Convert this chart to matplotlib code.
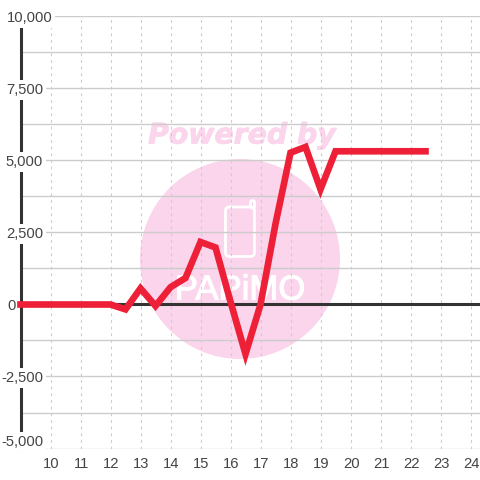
import matplotlib
matplotlib.use("Agg")
import matplotlib.pyplot as plt
import matplotlib.patheffects as pe
from matplotlib.patches import Circle, FancyBboxPatch
from matplotlib.transforms import ScaledTranslation

hours = [9, 12, 12.5, 13, 13.5, 14, 14.5, 15, 15.5, 16, 16.5, 17, 17.5, 18, 18.5, 19, 19.5, 22.5]
values = [0, 0, -170, 560, -50, 600, 920, 2170, 1980, 100, -1720, 0, 2800, 5270, 5470, 4000, 5320, 5320]
y_major = [-5000, -2500, 0, 2500, 5000, 7500, 10000]
y_labels = ["-5,000", "-2,500", "0", "2,500", "5,000", "7,500", "10,000"]
y_minor = [-3750, -1250, 1250, 3750, 6250, 8750]
x_ticks = list(range(10, 25))

W = H = 480
TXT = "#444444"
PINK = "#FBD5EC"
plt.rcParams["font.family"] = ["Liberation Sans", "DejaVu Sans"]

fig = plt.figure(figsize=(4.8, 4.8), dpi=100, facecolor="white")
ax = fig.add_axes([20.5 / W, 1 - 448.5 / H, (W - 20.5) / W, 432 / H])
ax.set_xlim(9, 9 + (W - 20.5) / 30)
ax.set_ylim(-5000, 10000)
ax.patch.set_alpha(0)
ax.set_xticks(x_ticks)
ax.set_yticks(y_major)
ax.set_yticks(y_minor, minor=True)
ax.set_yticklabels([])
ax.tick_params(which="both", length=0)
ax.tick_params(axis="x", labelsize=10.6, labelcolor=TXT, pad=6)
for lab in ax.get_xticklabels():
    lab.set_transform(lab.get_transform() + ScaledTranslation(1 / 100, 0, fig.dpi_scale_trans))
for s in ("top", "right", "bottom"):
    ax.spines[s].set_visible(False)
ax.spines["left"].set_linewidth(2.2)
ax.spines["left"].set_color("#333333")
ax.spines["left"].set_zorder(1.5)
ax.grid(True, axis="y", which="both", color="#cccccc", lw=1)
ax.grid(True, axis="x", color="#cccccc", lw=0.8, linestyle=(0, (2.5, 3.5)))
ax.set_axisbelow(True)


def box(x0, y0, x1, y1, r):
    return FancyBboxPatch((x0 / W, 1 - y1 / H), (x1 - x0) / W, (y1 - y0) / H,
                          boxstyle=f"round,pad=0,rounding_size={r / W}", transform=fig.transFigure,
                          fc="none", ec="white", lw=2, zorder=-4)


# watermark, behind the grid
fig.patches.append(Circle((240 / W, 1 - 259 / H), 100 / W, transform=fig.transFigure, fc=PINK, ec="none", zorder=-5))
fig.patches.append(box(225.5, 207, 254.5, 256.5, 4))
fig.patches.append(box(250.5, 200.5, 254.5, 208, 2))
fig.text(242 / W, 1 - 135.5 / H, "Powered by", family="DejaVu Sans", weight="bold", style="italic",
         fontsize=20.4, color=PINK, ha="center", va="center", zorder=-4,
         path_effects=[pe.withStroke(linewidth=0.6, foreground=PINK)])
fig.text(240 / W, 1 - 290 / H, "PAPiMO", family="Liberation Sans", fontsize=25, color="white",
         ha="center", va="center", zorder=-4,
         path_effects=[pe.withStroke(linewidth=0.8, foreground="white")])

ax.axhline(0, color="#333333", lw=2.2, zorder=2)
ax.plot(hours, values, color="#EE2038", lw=4.8, solid_joinstyle="miter", solid_capstyle="projecting",
        zorder=3, clip_on=False)

trans = ax.get_yaxis_transform()
right_edge = {"10,000": 52.5, "0": 16}
for v, lab in zip(y_major, y_labels):
    dx = right_edge.get(lab, 43) - 20.5
    dy = 7 if v == -5000 else -1.5
    ax.annotate(lab, xy=(0, v), xycoords=trans, xytext=(dx, dy), textcoords="offset pixels",
                ha="right", va="center", fontsize=10.6, color=TXT, zorder=2.5, annotation_clip=False,
                bbox=dict(fc="white", ec="none", pad=2))

fig.savefig("out.png", dpi=100)
